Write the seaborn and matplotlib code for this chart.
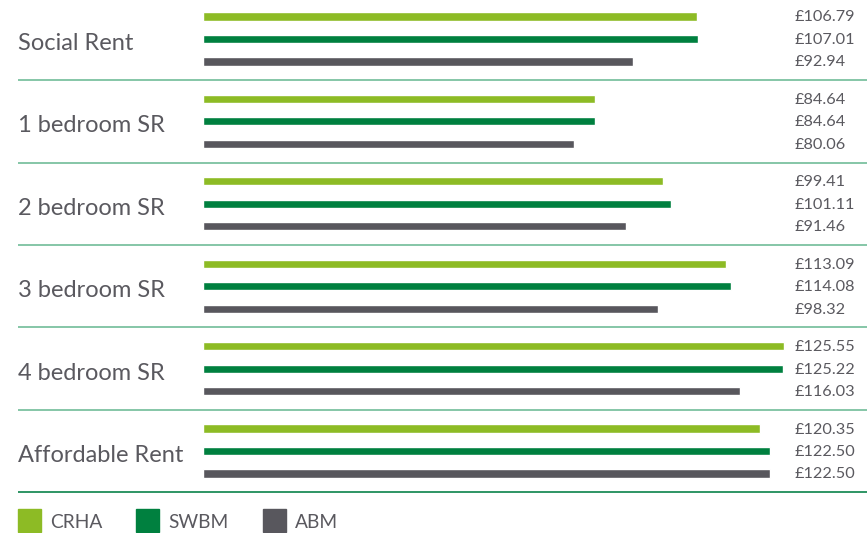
import matplotlib
matplotlib.use("Agg")
import matplotlib.pyplot as plt
from matplotlib.patches import Rectangle
import seaborn as sns
import pandas as pd

# Weekly rent by property type for three providers
categories = ["Social Rent", "1 bedroom SR", "2 bedroom SR",
              "3 bedroom SR", "4 bedroom SR", "Affordable Rent"]
series = ["CRHA", "SWBM", "ABM"]
crha = [106.79, 84.64, 99.41, 113.09, 125.55, 120.35]
swbm = [107.01, 84.64, 101.11, 114.08, 125.22, 122.50]
abm = [92.94, 80.06, 91.46, 98.32, 116.03, 122.50]

colors = ["#8DBB25", "#00803F", "#58575D"]
text_color = "#5A595F"

rows = []
for name, vals in zip(series, [crha, swbm, abm]):
    for cat, v in zip(categories, vals):
        rows.append({"category": cat, "provider": name, "rent": v})
df = pd.DataFrame(rows)

sns.set_theme(style="white")
plt.rcParams["font.family"] = ["Lato", "DejaVu Sans"]

W, H = 867, 533
PITCH = 82.4  # pixels per category row
fig = plt.figure(figsize=(W / 100, H / 100), dpi=100)
ax_left, ax_right = 203, 867
ax = fig.add_axes([ax_left / W, 40.8 / H, (ax_right - ax_left) / W, 492.2 / H])

sns.barplot(data=df, y="category", x="rent", hue="provider",
            order=categories, hue_order=series, palette=colors,
            orient="h", width=0.82, gap=0.64, dodge=True,
            saturation=1, legend=False, ax=ax)

ax.set_xlim(0, (ax_right - ax_left) / 4.628)
ax.set_ylim(5.5, -0.473)
ax.set_xlabel("")
ax.set_ylabel("")
ax.set_xticks([])
ax.set_yticks([])
for s in ax.spines.values():
    s.set_visible(False)

# value labels, one per bar
label_x = (795 - ax_left) / (ax_right - ax_left)
left_x = (18 - ax_left) / (ax_right - ax_left)
trans = matplotlib.transforms.blended_transform_factory(ax.transAxes, ax.transData)
offsets = [-0.273, 0.0, 0.273]
for i, cat in enumerate(categories):
    for j, vals in enumerate([crha, swbm, abm]):
        ax.text(label_x, i + offsets[j] + 5 / PITCH, f"£{vals[i]:.2f}",
                transform=trans, ha="left", va="baseline",
                fontsize=11.7, color=text_color)
    # category label on the left
    ax.text(left_x, i + 11 / PITCH, cat, transform=trans,
            ha="left", va="baseline", fontsize=17, color=text_color)
    # separator under each group
    sep_color = "#1E8C58" if i == len(categories) - 1 else "#7CC2A0"
    ax.plot([left_x, 1.0], [i + 0.5, i + 0.5],
            transform=trans, color=sep_color, lw=1.3, clip_on=False,
            solid_capstyle="butt")

# legend along the bottom
legend_items = [(18, 50), (136, 168), (263, 295)]
for (sx, tx), name, c in zip(legend_items, series, colors):
    fig.patches.append(Rectangle((sx / W, (H - 532) / H), 23 / W, 23 / H,
                                 transform=fig.transFigure, color=c))
    fig.text(tx / W, (H - 528) / H, name, ha="left", va="baseline",
             fontsize=13.8, color=text_color)

fig.savefig("out.png", dpi=100)
